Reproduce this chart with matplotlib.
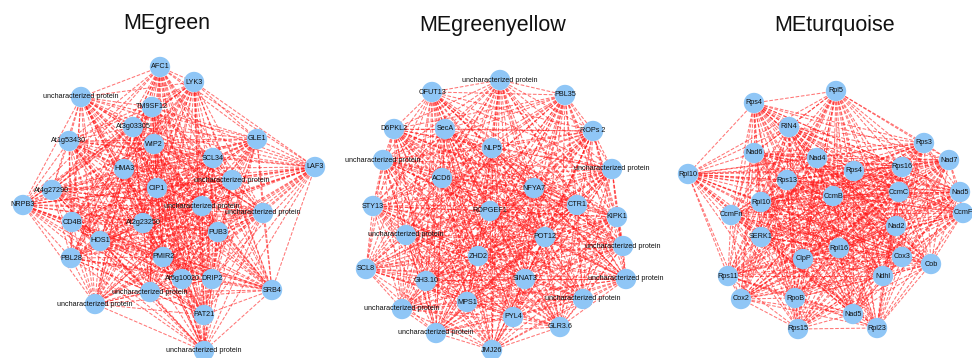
import itertools
import matplotlib
matplotlib.use("Agg")
import matplotlib.pyplot as plt
from matplotlib.collections import LineCollection

plt.rcParams['font.family'] = ['Liberation Sans', 'DejaVu Sans']

UP = "uncharacterized protein"

# Module titles and their centre positions (layout coordinates)
titles = ["MEgreen", "MEgreenyellow", "MEturquoise"]
title_x = [167, 493, 835]
title_y = [23, 26, 26]

# MEgreen hub genes and layout coordinates
green_names = ["AFC1", "LYK3", UP, "TM9SF12", "At3g03305", "At1g53430", "WIP2",
               "GLE1", "SCL34", "LAF3", "HMA3", UP, "CIP1", "At4g27290", "NRPB3",
               UP, UP, "CD4B", "At2g23250", "PUB3", "HOS1", "PBL28", "PMIR2",
               "At5g10020", "DRIP2", "SRB4", UP, UP, "PAT21", UP]
green_x = [160, 194, 81, 152, 133, 69, 154, 257, 213, 315, 124, 232, 157, 52, 23,
           202, 263, 72, 143, 218, 100, 71, 163, 182, 212, 272, 150, 95, 204, 204]
green_y = [67, 82, 97, 107, 127, 141, 144, 139, 158, 167, 169, 180, 188, 190, 205,
           206, 213, 222, 223, 232, 241, 258, 257, 279, 279, 290, 292, 304, 315, 351]

# MEgreenyellow hub genes and layout coordinates
gy_names = [UP, "OFUT13", "PBL35", "D6PKL2", "SecA", "ROPs 2", "NLP5", UP, UP,
            "ACD6", "NFYA7", "STY13", "ROPGEF1", "CTR1", "KIPK1", UP, "POT12", UP,
            "ZHD2", "SCL8", "GH3.10", "SINAT3", UP, UP, "MPS1", UP, "PYL4",
            "GLR3.6", UP, "JMJ26"]
gy_x = [500, 432, 565, 394, 445, 593, 492, 383, 612, 442, 534, 373, 490, 577, 617,
        406, 545, 623, 478, 366, 426, 525, 626, 583, 467, 402, 513, 560, 436, 492]
gy_y = [80, 92, 95, 129, 129, 131, 148, 160, 169, 178, 188, 206, 211, 205, 217,
        235, 237, 246, 256, 269, 281, 279, 279, 299, 302, 309, 317, 327, 333, 350]

# MEturquoise hub genes and layout coordinates
tq_names = ["Rpl5", "Rps4", "RIN4", "Rps3", "Nad6", "Nad4", "Nad7", "Rpl10", "Rps4",
            "Rps16", "Rps13", "Nad5", "CcmB", "CcmC", "Rpl10", "CcmFn", "CcmF",
            "Nad2", "SERK1", "Rpl16", "ClpP", "Cox3", "Cob", "Rps11", "Ndhl",
            "Cox2", "RpoB", "Nad5", "Rps15", "Rpl23"]
tq_x = [836, 754, 789, 924, 754, 817, 949, 688, 854, 902, 787, 960, 833, 899, 761,
        731, 963, 896, 761, 839, 803, 902, 931, 728, 883, 741, 795, 853, 798, 877]
tq_y = [91, 103, 127, 143, 153, 158, 160, 174, 171, 167, 180, 192, 196, 192, 202,
        215, 213, 226, 237, 248, 259, 257, 264, 276, 276, 299, 298, 314, 329, 328]

modules = [(green_names, green_x, green_y),
           (gy_names, gy_x, gy_y),
           (tq_names, tq_x, tq_y)]

W, H = 972, 358
fig = plt.figure(figsize=(W / 100, H / 100), dpi=100)
ax = fig.add_axes([0, 0, 1, 1])
ax.set_xlim(0, W)
ax.set_ylim(H, 0)
ax.axis("off")

node_color = "#8fc6f6"
edge_color = "#ff1a1a"

for names, xs, ys in modules:
    pts = list(zip(xs, ys))
    # co-expression edges between every pair of hub genes in the module
    segs = [[pts[i], pts[j]] for i, j in itertools.combinations(range(len(pts)), 2)]
    lc = LineCollection(segs, colors=edge_color, linewidths=0.75, alpha=0.6,
                        linestyles=(0, (3.5, 1.6)), zorder=1)
    ax.add_collection(lc)
    ax.scatter(xs, ys, s=215, color=node_color, edgecolors="none", zorder=2)
    for n, x, y in zip(names, xs, ys):
        ax.text(x, y, n, ha="center", va="center", fontsize=5.2, color="#111111",
                zorder=3)

for t, x, y in zip(titles, title_x, title_y):
    ax.text(x, y, t, ha="center", va="center", fontsize=15.5, color="#111111")

fig.savefig("out.png", dpi=100)
